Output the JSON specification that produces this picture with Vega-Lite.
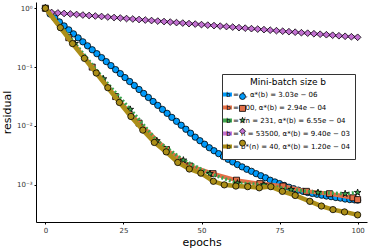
{
  "$schema": "https://vega.github.io/schema/vega-lite/v6.json",
  "width": 331,
  "height": 220,
  "autosize": "none",
  "padding": {"left": 36, "top": 2, "right": 7, "bottom": 27},
  "background": "white",
  "config": {
    "view": {"stroke": null},
    "font": "DejaVu Sans",
    "axis": {"grid": false, "domainColor": "black", "domainWidth": 1, "tickColor": "black", "tickSize": 2, "labelFontSize": 7, "labelColor": "#333", "titleFontSize": 11, "titleFontWeight": "normal", "titleColor": "black"}
  },
  "datasets": {
    "labels": [
      {"s": "1", "label": "b = 1, α*(b) = 3.03e − 06"},
      {"s": "100", "label": "b = 100, α*(b) = 2.94e − 04"},
      {"s": "231", "label": "b = √n = 231, α*(b) = 6.55e − 04"},
      {"s": "53500", "label": "b = n = 53500, α*(b) = 9.40e − 03"},
      {"s": "40", "label": "b = b*(n) = 40, α*(b) = 1.20e − 04"}
    ],
    "runs": [
      {"s": "1", "epoch": 0, "residual": 1},
      {"s": "1", "epoch": 1.5, "residual": 0.798},
      {"s": "1", "epoch": 3, "residual": 0.684},
      {"s": "1", "epoch": 4.5, "residual": 0.585},
      {"s": "1", "epoch": 6, "residual": 0.501},
      {"s": "1", "epoch": 7.5, "residual": 0.429},
      {"s": "1", "epoch": 9, "residual": 0.367},
      {"s": "1", "epoch": 10.5, "residual": 0.314},
      {"s": "1", "epoch": 12, "residual": 0.269},
      {"s": "1", "epoch": 13.5, "residual": 0.23},
      {"s": "1", "epoch": 15, "residual": 0.197},
      {"s": "1", "epoch": 16.5, "residual": 0.169},
      {"s": "1", "epoch": 18, "residual": 0.145},
      {"s": "1", "epoch": 19.5, "residual": 0.124},
      {"s": "1", "epoch": 21, "residual": 0.106},
      {"s": "1", "epoch": 22.5, "residual": 0.0906},
      {"s": "1", "epoch": 24, "residual": 0.0776},
      {"s": "1", "epoch": 25.5, "residual": 0.0664},
      {"s": "1", "epoch": 27, "residual": 0.0569},
      {"s": "1", "epoch": 28.5, "residual": 0.0487},
      {"s": "1", "epoch": 30, "residual": 0.0417},
      {"s": "1", "epoch": 31.5, "residual": 0.0357},
      {"s": "1", "epoch": 33, "residual": 0.0305},
      {"s": "1", "epoch": 34.5, "residual": 0.0261},
      {"s": "1", "epoch": 36, "residual": 0.0224},
      {"s": "1", "epoch": 37.5, "residual": 0.0191},
      {"s": "1", "epoch": 39, "residual": 0.0164},
      {"s": "1", "epoch": 40.5, "residual": 0.014},
      {"s": "1", "epoch": 42, "residual": 0.012},
      {"s": "1", "epoch": 43.5, "residual": 0.0103},
      {"s": "1", "epoch": 45, "residual": 0.00881},
      {"s": "1", "epoch": 46.5, "residual": 0.00754},
      {"s": "1", "epoch": 48, "residual": 0.00646},
      {"s": "1", "epoch": 49.5, "residual": 0.00562},
      {"s": "1", "epoch": 51, "residual": 0.0049},
      {"s": "1", "epoch": 52.5, "residual": 0.00427},
      {"s": "1", "epoch": 54, "residual": 0.0038},
      {"s": "1", "epoch": 55.5, "residual": 0.00339},
      {"s": "1", "epoch": 57, "residual": 0.00302},
      {"s": "1", "epoch": 58.5, "residual": 0.00272},
      {"s": "1", "epoch": 60, "residual": 0.00245},
      {"s": "1", "epoch": 61.5, "residual": 0.00221},
      {"s": "1", "epoch": 63, "residual": 0.00202},
      {"s": "1", "epoch": 64.5, "residual": 0.00184},
      {"s": "1", "epoch": 66, "residual": 0.0017},
      {"s": "1", "epoch": 67.5, "residual": 0.00155},
      {"s": "1", "epoch": 69, "residual": 0.00143},
      {"s": "1", "epoch": 70.5, "residual": 0.00132},
      {"s": "1", "epoch": 72, "residual": 0.0012},
      {"s": "1", "epoch": 73.5, "residual": 0.00112},
      {"s": "1", "epoch": 75, "residual": 0.00105},
      {"s": "1", "epoch": 76.5, "residual": 0.000977},
      {"s": "1", "epoch": 78, "residual": 0.000912},
      {"s": "1", "epoch": 79.5, "residual": 0.000861},
      {"s": "1", "epoch": 81, "residual": 0.000813},
      {"s": "1", "epoch": 82.5, "residual": 0.000776},
      {"s": "1", "epoch": 84, "residual": 0.000741},
      {"s": "1", "epoch": 85.5, "residual": 0.000716},
      {"s": "1", "epoch": 87, "residual": 0.000692},
      {"s": "1", "epoch": 88.5, "residual": 0.000668},
      {"s": "1", "epoch": 90, "residual": 0.000646},
      {"s": "1", "epoch": 91.5, "residual": 0.000631},
      {"s": "1", "epoch": 93, "residual": 0.00061},
      {"s": "1", "epoch": 94.5, "residual": 0.000596},
      {"s": "1", "epoch": 96, "residual": 0.000575},
      {"s": "1", "epoch": 97.5, "residual": 0.000562},
      {"s": "1", "epoch": 99, "residual": 0.000556},
      {"s": "1", "epoch": 100, "residual": 0.00055},
      {"s": "100", "epoch": 0, "residual": 1},
      {"s": "100", "epoch": 7.5, "residual": 0.316},
      {"s": "100", "epoch": 15, "residual": 0.1},
      {"s": "100", "epoch": 22.5, "residual": 0.0316},
      {"s": "100", "epoch": 30, "residual": 0.0112},
      {"s": "100", "epoch": 38.8, "residual": 0.00398},
      {"s": "100", "epoch": 46.3, "residual": 0.00209},
      {"s": "100", "epoch": 53.7, "residual": 0.00155},
      {"s": "100", "epoch": 61.2, "residual": 0.0012},
      {"s": "100", "epoch": 68.7, "residual": 0.00105},
      {"s": "100", "epoch": 76.1, "residual": 0.000955},
      {"s": "100", "epoch": 83.6, "residual": 0.000776},
      {"s": "100", "epoch": 91, "residual": 0.000708},
      {"s": "100", "epoch": 98.5, "residual": 0.000603},
      {"s": "100", "epoch": 100, "residual": 0.000562},
      {"s": "231", "epoch": 0, "residual": 1},
      {"s": "231", "epoch": 9.5, "residual": 0.251},
      {"s": "231", "epoch": 18.6, "residual": 0.0631},
      {"s": "231", "epoch": 27.2, "residual": 0.0191},
      {"s": "231", "epoch": 35.7, "residual": 0.00562},
      {"s": "231", "epoch": 44.2, "residual": 0.00263},
      {"s": "231", "epoch": 52.7, "residual": 0.00155},
      {"s": "231", "epoch": 61.5, "residual": 0.00107},
      {"s": "231", "epoch": 70, "residual": 0.001},
      {"s": "231", "epoch": 78.7, "residual": 0.000832},
      {"s": "231", "epoch": 87.3, "residual": 0.000741},
      {"s": "231", "epoch": 96, "residual": 0.000708},
      {"s": "231", "epoch": 100, "residual": 0.000741},
      {"s": "53500", "epoch": 0, "residual": 1},
      {"s": "53500", "epoch": 2, "residual": 0.847},
      {"s": "53500", "epoch": 4, "residual": 0.832},
      {"s": "53500", "epoch": 6, "residual": 0.815},
      {"s": "53500", "epoch": 8, "residual": 0.8},
      {"s": "53500", "epoch": 10, "residual": 0.783},
      {"s": "53500", "epoch": 12, "residual": 0.767},
      {"s": "53500", "epoch": 14, "residual": 0.753},
      {"s": "53500", "epoch": 16, "residual": 0.738},
      {"s": "53500", "epoch": 18, "residual": 0.724},
      {"s": "53500", "epoch": 20, "residual": 0.71},
      {"s": "53500", "epoch": 22, "residual": 0.695},
      {"s": "53500", "epoch": 24, "residual": 0.682},
      {"s": "53500", "epoch": 26, "residual": 0.668},
      {"s": "53500", "epoch": 28, "residual": 0.656},
      {"s": "53500", "epoch": 30, "residual": 0.643},
      {"s": "53500", "epoch": 32, "residual": 0.63},
      {"s": "53500", "epoch": 34, "residual": 0.618},
      {"s": "53500", "epoch": 36, "residual": 0.605},
      {"s": "53500", "epoch": 38, "residual": 0.594},
      {"s": "53500", "epoch": 40, "residual": 0.582},
      {"s": "53500", "epoch": 42, "residual": 0.57},
      {"s": "53500", "epoch": 44, "residual": 0.56},
      {"s": "53500", "epoch": 46, "residual": 0.548},
      {"s": "53500", "epoch": 48, "residual": 0.538},
      {"s": "53500", "epoch": 50, "residual": 0.527},
      {"s": "53500", "epoch": 52, "residual": 0.516},
      {"s": "53500", "epoch": 54, "residual": 0.507},
      {"s": "53500", "epoch": 56, "residual": 0.497},
      {"s": "53500", "epoch": 58, "residual": 0.488},
      {"s": "53500", "epoch": 60, "residual": 0.478},
      {"s": "53500", "epoch": 62, "residual": 0.468},
      {"s": "53500", "epoch": 64, "residual": 0.459},
      {"s": "53500", "epoch": 66, "residual": 0.45},
      {"s": "53500", "epoch": 68, "residual": 0.442},
      {"s": "53500", "epoch": 70, "residual": 0.433},
      {"s": "53500", "epoch": 72, "residual": 0.424},
      {"s": "53500", "epoch": 74, "residual": 0.416},
      {"s": "53500", "epoch": 76, "residual": 0.407},
      {"s": "53500", "epoch": 78, "residual": 0.4},
      {"s": "53500", "epoch": 80, "residual": 0.392},
      {"s": "53500", "epoch": 82, "residual": 0.384},
      {"s": "53500", "epoch": 84, "residual": 0.377},
      {"s": "53500", "epoch": 86, "residual": 0.369},
      {"s": "53500", "epoch": 88, "residual": 0.362},
      {"s": "53500", "epoch": 90, "residual": 0.355},
      {"s": "53500", "epoch": 92, "residual": 0.348},
      {"s": "53500", "epoch": 94, "residual": 0.341},
      {"s": "53500", "epoch": 96, "residual": 0.334},
      {"s": "53500", "epoch": 98, "residual": 0.328},
      {"s": "53500", "epoch": 100, "residual": 0.321},
      {"s": "40", "epoch": 0, "residual": 1},
      {"s": "40", "epoch": 4.8, "residual": 0.468},
      {"s": "40", "epoch": 8.7, "residual": 0.251},
      {"s": "40", "epoch": 12.5, "residual": 0.141},
      {"s": "40", "epoch": 16.3, "residual": 0.0794},
      {"s": "40", "epoch": 20, "residual": 0.0447},
      {"s": "40", "epoch": 23.7, "residual": 0.0251},
      {"s": "40", "epoch": 27.4, "residual": 0.0145},
      {"s": "40", "epoch": 31.2, "residual": 0.00851},
      {"s": "40", "epoch": 34.9, "residual": 0.00525},
      {"s": "40", "epoch": 38.7, "residual": 0.00363},
      {"s": "40", "epoch": 42.4, "residual": 0.0024},
      {"s": "40", "epoch": 46.1, "residual": 0.00186},
      {"s": "40", "epoch": 49.8, "residual": 0.00158},
      {"s": "40", "epoch": 53.8, "residual": 0.00115},
      {"s": "40", "epoch": 57.3, "residual": 0.001},
      {"s": "40", "epoch": 61, "residual": 0.000955},
      {"s": "40", "epoch": 64.8, "residual": 0.000933},
      {"s": "40", "epoch": 68.5, "residual": 0.000891},
      {"s": "40", "epoch": 72.2, "residual": 0.000933},
      {"s": "40", "epoch": 75.9, "residual": 0.000776},
      {"s": "40", "epoch": 80, "residual": 0.000661},
      {"s": "40", "epoch": 84.7, "residual": 0.000525},
      {"s": "40", "epoch": 88.4, "residual": 0.000437},
      {"s": "40", "epoch": 92.1, "residual": 0.00038},
      {"s": "40", "epoch": 95.8, "residual": 0.000347},
      {"s": "40", "epoch": 100, "residual": 0.000309}
    ]
  },
  "data": {"name": "runs"},
  "encoding": {
    "x": {"field": "epoch", "type": "quantitative", "scale": {"domain": [-3, 103], "nice": false, "zero": false},
      "axis": {"values": [0, 25, 50, 75, 100], "title": "epochs", "titlePadding": 3, "labelPadding": 2}},
    "y": {"field": "residual", "type": "quantitative", "scale": {"type": "log", "domain": [0.000234, 1.276], "nice": false},
      "axis": {"values": [1, 0.1, 0.01, 0.001], "title": "residual", "titlePadding": 4, "labelPadding": 2,
        "labelExpr": "datum.value > 0.5 ? '10⁰' : datum.value > 0.05 ? '10⁻¹' : datum.value > 0.005 ? '10⁻²' : '10⁻³'"}}
  },
  "layer": [
    {"transform": [{"filter": "datum.s === '1'"}, {"lookup": "s", "from": {"data": {"name": "labels"}, "key": "s", "fields": ["label"]}}],
      "mark": {"type": "line", "strokeWidth": 3.5},
      "encoding": {"stroke": {"field": "label", "type": "nominal",
        "scale": {"domain": ["b = 1, α*(b) = 3.03e − 06", "b = 100, α*(b) = 2.94e − 04", "b = √n = 231, α*(b) = 6.55e − 04", "b = n = 53500, α*(b) = 9.40e − 03", "b = b*(n) = 40, α*(b) = 1.20e − 04"], "range": ["#009AFA", "#E36F47", "#3EA44E", "#C371D2", "#AC8E18"]},
        "legend": {"orient": "none", "legendX": 186, "legendY": 72, "title": "Mini-batch size b", "titleFontSize": 9, "titleFontWeight": "normal", "titleAnchor": "middle", "titlePadding": 3,
          "symbolType": "M-2,0H2", "symbolSize": 20, "symbolStrokeWidth": 4, "symbolOffset": -3, "labelFontSize": 7, "labelOffset": -5.7, "rowPadding": -5,
          "padding": 4, "strokeColor": "#333", "fillColor": "white", "cornerRadius": 0}}}},
    {"transform": [{"filter": "datum.s === '1'"}], "mark": {"type": "point", "filled": true, "size": 40, "stroke": "black", "strokeWidth": 0.8, "opacity": 1},
      "encoding": {"fill": {"field": "s", "type": "nominal", "scale": {"domain": ["1", "100", "231", "53500", "40"], "range": ["#009AFA", "#E36F47", "#3EA44E", "#C371D2", "#AC8E18"]},
        "legend": {"orient": "none", "legendX": 199, "legendY": 75, "zindex": 5, "title": "Mini-batch size b", "titleOpacity": 0, "titleFontSize": 9, "titleFontWeight": "normal", "titlePadding": 3,
          "symbolSize": 36, "symbolStrokeColor": "black", "symbolStrokeWidth": 0.8, "labelFontSize": 7, "labelOffset": 3, "rowPadding": 0.9, "padding": 4, "labelOpacity": 0}},
        "shape": {"field": "s", "type": "nominal", "scale": {"domain": ["1", "100", "231", "53500", "40"], "range": ["circle", "square", "M0,-1L0.2245,-0.309L0.9511,-0.309L0.3633,0.118L0.5878,0.809L0,0.382L-0.5878,0.809L-0.3633,0.118L-0.9511,-0.309L-0.2245,-0.309Z", "diamond", "circle"]}}}},
    {"transform": [{"filter": "datum.s === '100'"}, {"lookup": "s", "from": {"data": {"name": "labels"}, "key": "s", "fields": ["label"]}}], "mark": {"type": "line", "strokeWidth": 4}, "encoding": {"stroke": {"field": "label", "type": "nominal"}}},
    {"transform": [{"filter": "datum.s === '100'"}], "mark": {"type": "point", "filled": true, "size": 36, "stroke": "black", "strokeWidth": 0.8, "opacity": 1},
      "encoding": {"fill": {"field": "s", "type": "nominal"}, "shape": {"field": "s", "type": "nominal"}}},
    {"transform": [{"filter": "datum.s === '231'"}, {"lookup": "s", "from": {"data": {"name": "labels"}, "key": "s", "fields": ["label"]}}], "mark": {"type": "line", "strokeWidth": 3.5, "strokeDash": [2, 2]}, "encoding": {"stroke": {"field": "label", "type": "nominal"}}},
    {"transform": [{"filter": "datum.s === '231'"}], "mark": {"type": "point", "filled": true, "size": 50, "stroke": "black", "strokeWidth": 0.8, "opacity": 1},
      "encoding": {"fill": {"field": "s", "type": "nominal"}, "shape": {"field": "s", "type": "nominal"}}},
    {"transform": [{"filter": "datum.s === '53500'"}, {"lookup": "s", "from": {"data": {"name": "labels"}, "key": "s", "fields": ["label"]}}], "mark": {"type": "line", "strokeWidth": 3}, "encoding": {"stroke": {"field": "label", "type": "nominal"}}},
    {"transform": [{"filter": "datum.s === '53500'"}], "mark": {"type": "point", "filled": true, "size": 45, "stroke": "black", "strokeWidth": 0.8, "opacity": 1},
      "encoding": {"fill": {"field": "s", "type": "nominal"}, "shape": {"field": "s", "type": "nominal"}}},
    {"transform": [{"filter": "datum.s === '40'"}, {"lookup": "s", "from": {"data": {"name": "labels"}, "key": "s", "fields": ["label"]}}], "mark": {"type": "line", "strokeWidth": 4.5}, "encoding": {"stroke": {"field": "label", "type": "nominal"}}},
    {"transform": [{"filter": "datum.s === '40'"}], "mark": {"type": "point", "filled": true, "size": 40, "stroke": "black", "strokeWidth": 0.8, "opacity": 1},
      "encoding": {"fill": {"field": "s", "type": "nominal"}, "shape": {"field": "s", "type": "nominal"}}}
  ]
}
